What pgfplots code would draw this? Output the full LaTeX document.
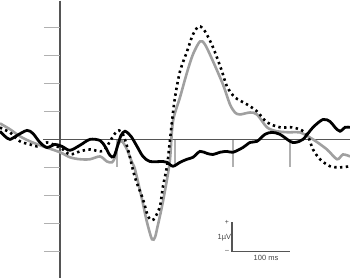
\documentclass[border=0pt]{standalone}
\usepackage{pgfplots}
\pgfplotsset{compat=1.18}
\usepackage{fontspec}
\setmainfont{Liberation Sans}
\definecolor{trgray}{HTML}{A0A0A0}
\definecolor{axgray}{HTML}{555555}
\definecolor{tkgray}{HTML}{B0B0B0}
\definecolor{txgray}{HTML}{444444}
\begin{document}
\begin{tikzpicture}
\begin{axis}[
  scale only axis, width=350pt, height=281pt,
  xmin=-103.4, xmax=500, ymin=-5.04, ymax=5,
  hide axis, clip=true,
]
% axes
\draw[axgray, line width=1.1pt] (axis cs:0,4.96) -- (axis cs:0,-4.96);
\draw[axgray, line width=0.9pt] (axis cs:-29.3,0) -- (axis cs:500,0);
\pgfplotsinvokeforeach{-4,-3,-2,-1,1,2,3,4}{
  \draw[tkgray, line width=1.2pt] (axis cs:-27.6,#1) -- (axis cs:-0.5,#1);
}
\pgfplotsinvokeforeach{98.3,198.3,298.3,396.6}{
  \draw[tkgray, line width=1.2pt] (axis cs:#1,-0.03) -- (axis cs:#1,-1.0);
}
% gray trace
\addplot[trgray, line width=2.6pt, smooth, tension=0.5] coordinates {
(-103.4,0.57) (-86.2,0.36) (-69.0,0.11) (-51.7,-0.07) (-29.3,-0.25) (0,-0.46) (17.2,-0.64) (34.5,-0.71) (51.7,-0.71) (69.0,-0.61) (81.0,-0.79) (89.7,-0.82) (94.8,-0.64) (100,-0.18) (106.9,-0.07) (115.5,-0.36) (124.1,-0.82) (129.3,-1.07) (141.4,-2.14) (150.0,-2.96) (158.6,-3.57) (163.8,-3.5) (167.2,-3.21) (175.9,-2.39) (184.5,-1.43) (189.7,-0.71) (194.8,0.64) (206.9,1.5) (219.0,2.39) (229.3,3.04) (241.4,3.5) (250.0,3.39) (263.8,2.79) (281.0,1.96) (293.1,1.25) (301.7,0.96) (310.3,0.89) (327.6,0.96) (339.7,0.89) (356.9,0.43) (374.1,0.29) (396.6,0.25) (413.8,0.25) (436.2,0) (460.3,-0.36) (477.6,-0.71) (487.9,-0.54) (500,-0.61)
};
% dotted trace
\addplot[black, line width=2.6pt, dash pattern=on 2.4pt off 3.4pt, smooth, tension=0.5] coordinates {
(-103.4,0.43) (-98.3,0.36) (-86.2,0.25) (-69.0,-0.07) (-51.7,-0.18) (-39.7,-0.25) (-22.4,-0.11) (-12.1,-0.18) (5.2,-0.36) (17.2,-0.54) (34.5,-0.43) (51.7,-0.36) (69.0,-0.43) (77.6,-0.36) (86.2,-0.07) (94.8,0.21) (101.7,0.32) (108.6,0.18) (117.2,-0.36) (129.3,-1.36) (143.1,-2.14) (151.7,-2.75) (158.6,-2.89) (163.8,-2.79) (172.4,-2.39) (177.6,-1.68) (184.5,-0.96) (187.9,-0.36) (193.1,0.64) (198.3,1.5) (206.9,2.43) (219.0,3.14) (229.3,3.75) (239.7,4.04) (250.0,3.86) (263.8,3.29) (279.3,2.43) (287.9,1.89) (301.7,1.5) (322.4,1.25) (339.7,1.0) (356.9,0.61) (379.3,0.43) (400.0,0.43) (417.2,0.32) (427.6,0.11) (436.2,-0.36) (448.3,-0.71) (465.5,-0.96) (482.8,-1.0) (500,-0.96)
};
% black solid trace
\addplot[black, line width=2.8pt, smooth, tension=0.5] coordinates {
(-103.4,0.29) (-94.8,0.11) (-86.2,0) (-74.1,0.14) (-56.9,0.32) (-46.6,0.21) (-34.5,-0.11) (-22.4,-0.29) (-8.6,-0.18) (3.4,-0.25) (17.2,-0.39) (34.5,-0.21) (51.7,0) (69.0,-0.04) (77.6,-0.25) (86.2,-0.57) (93.1,-0.61) (100,-0.18) (105.2,0.14) (112.1,0.29) (122.4,0.11) (132.8,-0.25) (143.1,-0.61) (155.2,-0.79) (177.6,-0.79) (184.5,-0.82) (194.8,-0.96) (206.9,-0.82) (219.0,-0.71) (229.3,-0.64) (241.4,-0.43) (253.4,-0.5) (263.8,-0.54) (275.9,-0.46) (287.9,-0.43) (298.3,-0.46) (315.5,-0.29) (327.6,-0.11) (339.7,-0.07) (353.4,0.18) (365.5,0.25) (379.3,0.18) (396.6,-0.07) (405.2,-0.11) (419.0,0) (436.2,0.43) (453.4,0.71) (465.5,0.64) (474.1,0.43) (482.8,0.29) (491.4,0.43) (500,0.43)
};
% scale bar
\draw[axgray, line width=1.1pt] (axis cs:296.6,-2.96) -- (axis cs:296.6,-4.0) -- (axis cs:396.6,-4.0);
\node[txgray, inner sep=0pt, font=\fontsize{7}{8}\selectfont] at (axis cs:287.9,-2.96) {+};
\node[txgray, inner sep=0pt, font=\fontsize{7}{8}\selectfont] at (axis cs:287.9,-4.0) {\textendash};
\node[txgray, anchor=east, inner sep=0pt, font=\fontsize{7.5}{8}\selectfont] at (axis cs:295.5,-3.5) {1µV};
\node[txgray, inner sep=0pt, font=\fontsize{7.5}{8}\selectfont] at (axis cs:355.2,-4.24) {100 ms};
\end{axis}
\end{tikzpicture}
\end{document}
